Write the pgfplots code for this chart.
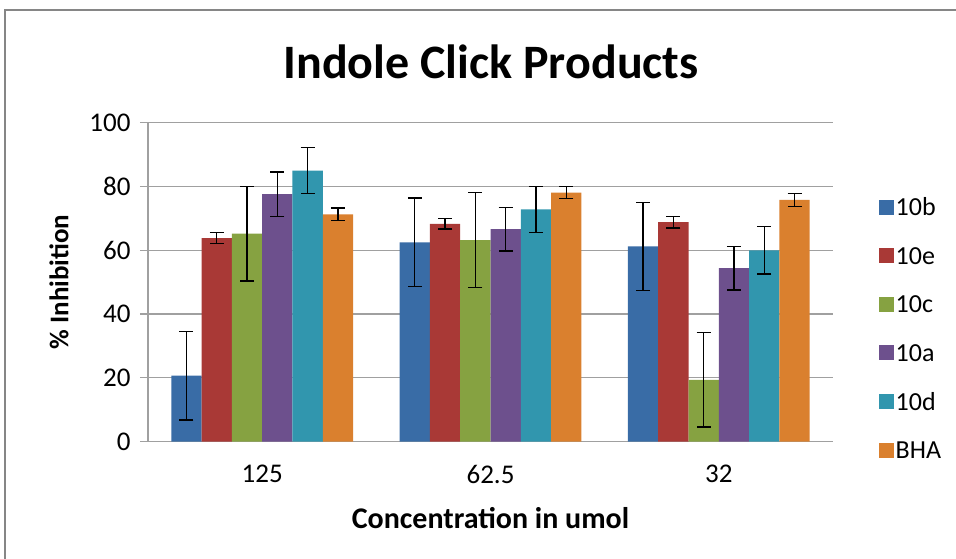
\documentclass[border=0pt]{standalone}
\usepackage{pgfplots}
\pgfplotsset{compat=1.18}
\usepackage{pgfplotstable}
\usepackage{fontspec}
\setmainfont{Carlito}
\definecolor{cB}{RGB}{57,108,166}
\definecolor{cR}{RGB}{169,57,54}
\definecolor{cG}{RGB}{134,162,65}
\definecolor{cP}{RGB}{109,80,141}
\definecolor{cT}{RGB}{49,150,174}
\definecolor{cO}{RGB}{218,128,46}
\definecolor{frame}{RGB}{134,134,134}
\definecolor{gridc}{RGB}{160,160,160}
\pgfplotstableread{
x y e
0 20.7 13.9
1 62.5 13.9
2 61.2 13.7
}\tbB
\pgfplotstableread{
x y e
0 63.8 1.7
1 68.3 1.6
2 68.8 1.8
}\tbE
\pgfplotstableread{
x y e
0 65.2 14.8
1 63.2 14.9
2 19.4 14.8
}\tbC
\pgfplotstableread{
x y e
0 77.6 6.9
1 66.6 6.8
2 54.4 6.8
}\tbA
\pgfplotstableread{
x y e
0 85.0 7.2
1 72.8 7.2
2 60.0 7.4
}\tbD
\pgfplotstableread{
x y e
0 71.3 2.0
1 78.1 1.8
2 75.8 2.0
}\tbH
\begin{document}
\begin{tikzpicture}
\useasboundingbox (0bp,0bp) rectangle (956bp,559bp);
\draw[frame, line width=2bp] (5bp,-5bp) -- (5bp,549bp) -- (961bp,549bp);
\node[font=\bfseries\fontsize{48bp}{52bp}\selectfont] at (491bp,497bp) {Indole Click Products};
\begin{axis}[
  at={(148bp,117.3bp)}, anchor=south west,
  scale only axis, width=685bp, height=319bp,
  xmin=-0.5, xmax=2.5, ymin=0, ymax=100,
  xtick={0,1,2}, xticklabels={125,62.5,32},
  ytick={0,20,...,100},
  axis lines*=left,
  axis line style={gridc, line width=1.2bp},
  ymajorgrids, grid style={gridc, line width=1.2bp},
  tick align=outside, major tick length=8bp,
  xtick style={draw=none},
  ytick style={gridc, line width=1.2bp},
  tick label style={font=\fontsize{27bp}{31bp}\selectfont},
  /pgf/number format/assume math mode=true,
  xticklabel style={yshift=-12bp},
  yticklabel style={xshift=-6bp},
  xlabel={Concentration in umol},
  ylabel={\% Inhibition},
  xlabel style={font=\bfseries\fontsize{30bp}{34bp}\selectfont, at={(axis description cs:0.5,0)}, anchor=center, yshift=-76bp},
  ylabel style={font=\bfseries\fontsize{27bp}{31bp}\selectfont, at={(axis description cs:-0.13,0.5)}, anchor=center},
  ybar=0pt, bar width=30.3bp,
  error bars/y dir=both, error bars/y explicit,
  error bars/error bar style={black, line width=1.3bp},
  error bars/error mark options={rotate=90, mark size=7bp, line width=1.3bp, black},
  legend image code/.code={\path[#1] (0bp,-7.5bp) rectangle (15bp,7.5bp);},
  legend style={draw=none, fill=none, at={(axis description cs:1.062,0.775)}, anchor=north west,
    font=\fontsize{26bp}{30bp}\selectfont, row sep=27.6bp,
    nodes={text height=17bp, text depth=0bp, inner sep=2bp}},
  legend cell align=left,
]
\addplot[fill=cB, draw=none] table[x=x, y=y, y error=e] {\tbB};
\addplot[fill=cR, draw=none] table[x=x, y=y, y error=e] {\tbE};
\addplot[fill=cG, draw=none] table[x=x, y=y, y error=e] {\tbC};
\addplot[fill=cP, draw=none] table[x=x, y=y, y error=e] {\tbA};
\addplot[fill=cT, draw=none] table[x=x, y=y, y error=e] {\tbD};
\addplot[fill=cO, draw=none] table[x=x, y=y, y error=e] {\tbH};
\legend{10b,10e,10c,10a,10d,BHA}
\end{axis}
\end{tikzpicture}
\end{document}
